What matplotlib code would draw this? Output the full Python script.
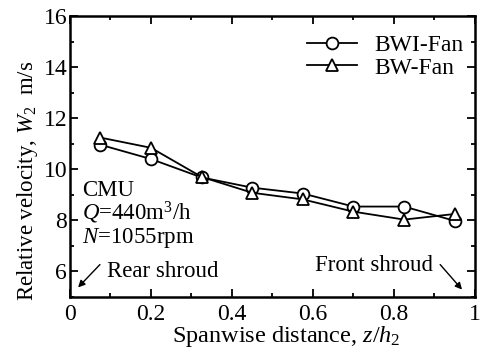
import numpy as np
import matplotlib
matplotlib.use("Agg")
import matplotlib.pyplot as plt
from matplotlib.ticker import MultipleLocator

plt.rcParams['font.family'] = 'Liberation Serif'
plt.rcParams['mathtext.fontset'] = 'custom'
plt.rcParams['mathtext.rm'] = 'Liberation Serif'
plt.rcParams['mathtext.it'] = 'Liberation Serif:italic'

# spanwise positions and relative velocity
span = [0.075, 0.2, 0.325, 0.45, 0.575, 0.7, 0.825, 0.95]
bwi_fan = [10.96, 10.4, 9.68, 9.28, 9.05, 8.54, 8.54, 7.98]
bw_fan = [11.24, 10.84, 9.7, 9.08, 8.82, 8.34, 8.03, 8.25]

fig = plt.figure(figsize=(4.81, 3.61), dpi=100)
ax = fig.add_axes([0.1455, 0.1773, 0.842, 0.7784])

ax.plot(span, bwi_fan, color='black', lw=1.3, marker='o', ms=8.5,
        mfc='white', mec='black', mew=1.3, label='BWI-Fan')
ax.plot(span, bw_fan, color='black', lw=1.3, marker='^', ms=8.5,
        mfc='white', mec='black', mew=1.3, label='BW-Fan')

ax.set_xlim(0, 1)
ax.set_ylim(5, 16)
ax.set_xticks([0, 0.2, 0.4, 0.6, 0.8, 1])
ax.set_xticklabels(['0', '0.2', '0.4', '0.6', '0.8', '1'])
ax.set_yticks([6, 8, 10, 12, 14, 16])
ax.xaxis.set_minor_locator(MultipleLocator(0.1))
ax.yaxis.set_minor_locator(MultipleLocator(1))
ax.tick_params(which='both', direction='in', top=True, right=True,
               labelsize=17, width=1.3)
ax.tick_params(which='major', length=6)
ax.tick_params(which='minor', length=3)
ax.tick_params(axis='x', pad=5)
ax.tick_params(axis='y', pad=2)
for s in ax.spines.values():
    s.set_linewidth(1.8)

ax.set_xlabel('Spanwise distance, $z/h_2$', fontsize=17.5)
ax.set_ylabel('Relative velocity, $W_2$  m/s', fontsize=16.5)
ax.xaxis.set_label_coords(0.533, -0.095)
ax.yaxis.set_label_coords(-0.075, 0.415)

fs = 16.5
ax.text(0.03, 8.95, 'CMU', fontsize=fs)
ax.text(0.03, 8.03, '$Q$=440m$^3$/h', fontsize=fs)
ax.text(0.03, 7.13, '$N$=1055rpm', fontsize=fs)
ax.text(0.091, 5.8, 'Rear shroud', fontsize=fs)
ax.annotate('', xy=(0.02, 5.375), xytext=(0.074, 6.27),
            arrowprops=dict(arrowstyle='-|>', color='black', lw=1,
                            mutation_scale=10, shrinkA=0, shrinkB=0))
ax.text(0.605, 6.0, 'Front shroud', fontsize=fs)
ax.annotate('', xy=(0.968, 5.29), xytext=(0.914, 6.27),
            arrowprops=dict(arrowstyle='-|>', color='black', lw=1,
                            mutation_scale=10, shrinkA=0, shrinkB=0))

ax.legend(loc='upper right', bbox_to_anchor=(1.01, 0.989), frameon=False,
          fontsize=17, handlelength=2.1, handletextpad=0.75,
          borderaxespad=0.25, labelspacing=0.05)

fig.savefig('out.png', dpi=100)
